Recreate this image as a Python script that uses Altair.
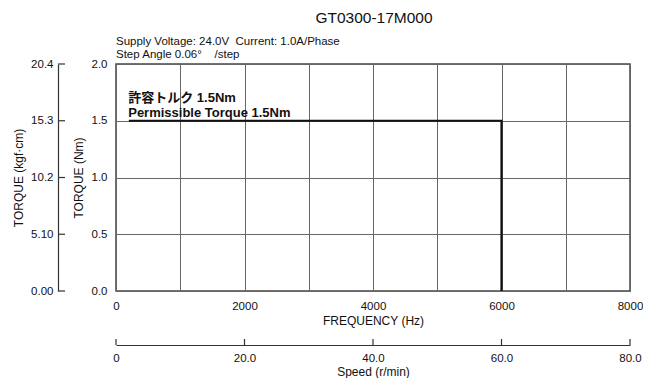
import altair as alt
import pandas as pd

# ---- data ----
curve_freq = [200, 6000, 6000]
curve_torque = [1.5, 1.5, 0.0]
freq_ticks = [0, 1000, 2000, 3000, 4000, 5000, 6000, 7000, 8000]
torque_ticks = [0.0, 0.5, 1.0, 1.5, 2.0]
kgf_ticks = [0.0, 5.10, 10.2, 15.3, 20.4]
speed_ticks = [0, 20, 40, 60, 80]

NB = "\u00a0"
title_text = "GT0300-17M000"
sub1 = "Supply Voltage: 24.0V" + NB + NB + "Current: 1.0A/Phase"
sub2 = "Step Angle 0.06°" + NB + NB + NB + NB + "/step"
ann_jp = "許容トルク 1.5Nm"
ann_en = "Permissible Torque 1.5Nm"

FONT = "Liberation Sans, Arial, Noto Sans CJK JP"
W, H = 514, 227
KGF_OFF = 58
SPD_OFF = 54

curve_df = pd.DataFrame({"freq": curve_freq, "torque": curve_torque, "i": range(len(curve_freq))})

curve = alt.Chart(curve_df).mark_line(color="#111", strokeWidth=2.2).encode(
    x=alt.X("freq:Q", scale=alt.Scale(domain=[0, 8000], nice=False, zero=False),
            axis=alt.Axis(values=freq_ticks, title="FREQUENCY (Hz)", ticks=False, domain=False,
                          grid=True, gridColor="#666", gridWidth=1,
                          labelExpr="datum.value % 2000 == 0 ? datum.label : ''",
                          format="d", labelPadding=9, titlePadding=4,
                          labelFontSize=11.5, titleFontSize=12, labelFlush=False)),
    y=alt.Y("torque:Q", scale=alt.Scale(domain=[0, 2], nice=False),
            axis=alt.Axis(values=torque_ticks, format=".1f", title="TORQUE (Nm)", ticks=False,
                          domain=False, grid=True, gridColor="#666", gridWidth=1,
                          labelPadding=9, titlePadding=6, labelFontSize=11.5, titleFontSize=12)),
    order=alt.Order("i:Q"),
)

ann_df = pd.DataFrame({"t": [ann_jp, ann_en], "f": [190, 190], "v": [1.70, 1.572]})
ann = alt.Chart(ann_df).mark_text(align="left", baseline="middle", fontWeight="bold",
                                  fontSize=13, font=FONT, color="#111").encode(
    x=alt.X("f:Q"), y=alt.Y("v:Q"), text="t:N")

hdr = alt.Chart(pd.DataFrame({"t": [title_text]})).mark_text(
    align="center", baseline="middle", fontSize=15.5, font=FONT, color="#111").encode(
    x=alt.value(258), y=alt.value(-46), text="t:N")
s1 = alt.Chart(pd.DataFrame({"t": [sub1]})).mark_text(
    align="left", baseline="middle", fontSize=11.5, font=FONT, color="#111").encode(
    x=alt.value(0), y=alt.value(-22), text="t:N")
s2 = alt.Chart(pd.DataFrame({"t": [sub2]})).mark_text(
    align="left", baseline="middle", fontSize=11.5, font=FONT, color="#111").encode(
    x=alt.value(0), y=alt.value(-9.5), text="t:N")

main = alt.layer(curve, ann, hdr, s1, s2)

kgf_df = pd.DataFrame({"kgf": kgf_ticks})
kgf = alt.Chart(kgf_df).mark_rule(color="#333", strokeWidth=1.2).encode(
    y=alt.Y("kgf:Q", scale=alt.Scale(domain=[0, 20.4], nice=False),
            axis=alt.Axis(orient="left", values=kgf_ticks,
                          labelExpr="datum.value < 10 ? format(datum.value, '.2f') : format(datum.value, '.1f')",
                          title="TORQUE (kgf·cm)", offset=KGF_OFF, ticks=False,
                          domainColor="#333", domainWidth=1.2, labelPadding=5, titlePadding=5,
                          grid=False, labelFontSize=11.5, titleFontSize=12)),
    x=alt.value(-KGF_OFF), x2=alt.value(-KGF_OFF + 7),
)

speed_df = pd.DataFrame({"speed": speed_ticks})
speed = alt.Chart(speed_df).mark_rule(color="#333", strokeWidth=1.2).encode(
    x=alt.X("speed:Q", scale=alt.Scale(domain=[0, 80], nice=False),
            axis=alt.Axis(orient="bottom", values=speed_ticks, format=".1f",
                          labelExpr="datum.value == 0 ? '0' : datum.label",
                          title="Speed (r/min)", offset=SPD_OFF, ticks=False,
                          domainColor="#333", domainWidth=1.2,
                          labelPadding=7, titlePadding=3, grid=False, labelFlush=False,
                          labelFontSize=11.5, titleFontSize=12)),
    y=alt.value(H + SPD_OFF - 6), y2=alt.value(H + SPD_OFF),
)

chart = alt.layer(main, kgf, speed).resolve_scale(x="independent", y="independent").properties(
    width=W, height=H, padding={"left": 4, "top": 3, "right": 0, "bottom": 0}
).configure(font=FONT).configure_axis(
    labelFont=FONT, titleFont=FONT, labelColor="#111", titleColor="#111", titleFontWeight="normal"
).configure_view(stroke="#444", strokeWidth=1.5)

chart.save("out.html", embed_options={"renderer": "svg", "actions": False})
